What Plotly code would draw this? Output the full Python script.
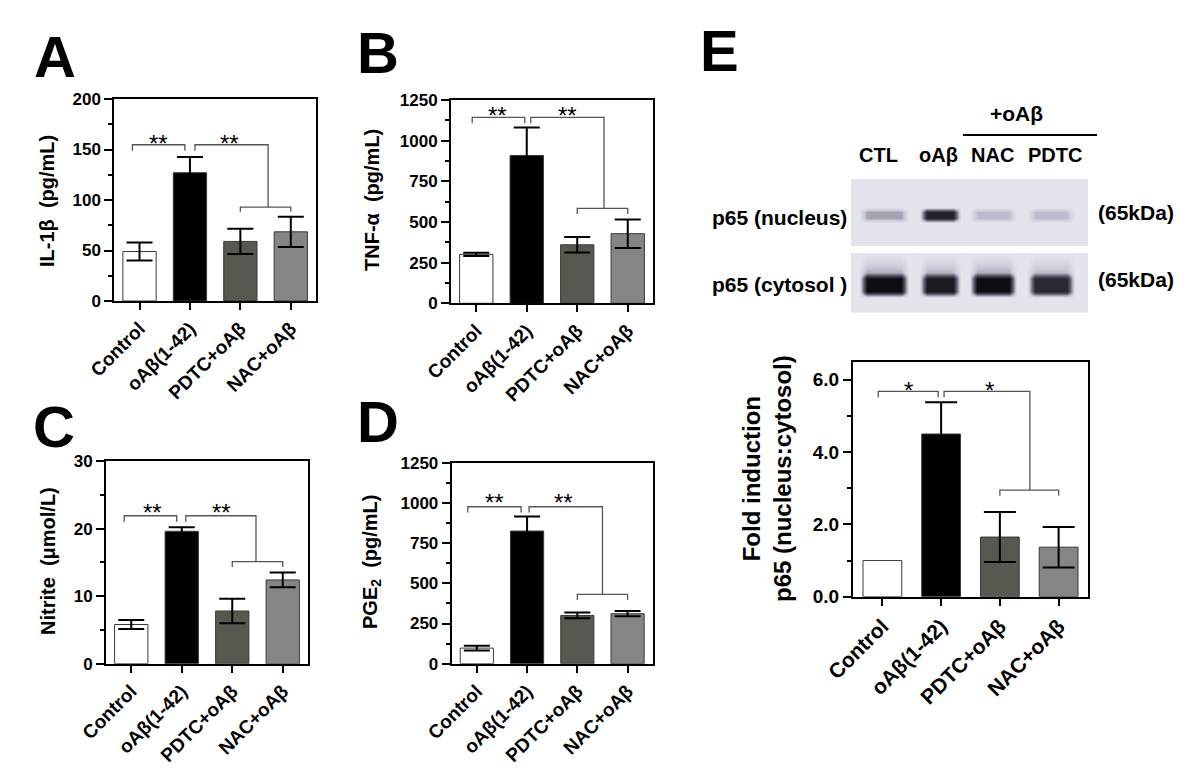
import plotly.graph_objects as go

FONT = "Liberation Sans, Arial, sans-serif"
W, H = 1200, 782

# ---- data ----
categories = ["Control", "oAβ(1-42)", "PDTC+oAβ", "NAC+oAβ"]
bar_colors = ["#ffffff", "#000000", "#57584f", "#858585"]

il1b_mean = [49, 127, 59, 68.5]
il1b_err = [9, 15.5, 12.5, 15]

tnfa_mean = [301, 909, 360, 428]
tnfa_err = [10, 172, 48, 88]

nitrite_mean = [5.8, 19.6, 7.8, 12.4]
nitrite_err = [0.65, 0.6, 1.8, 1.1]

pge2_mean = [97, 825, 300, 311]
pge2_err = [15, 91, 18, 16]

p65_mean = [1.0, 4.5, 1.65, 1.37]
p65_err = [None, 0.88, 0.69, 0.56]

# western blot: relative band darkness per lane (0 = background, 1 = black)
blot_lanes = ["CTL", "oAβ", "NAC", "PDTC"]
nucleus_signal = [0.32, 0.85, 0.24, 0.24]
cytosol_signal = [0.97, 0.9, 0.97, 0.82]


def px(x):
    return x / W


def py(y):
    return 1 - y / H


def label(x, y, text, size, xanchor="center", **kw):
    # paper-positioned text, given in picture pixels
    return dict(x=px(x), y=py(y), xref="paper", yref="paper", text=text,
                xanchor=xanchor, yanchor="middle", showarrow=False,
                font=dict(family=FONT, size=size, color="black", weight="bold"), **kw)


fig = go.Figure()
layout = dict(
    width=W, height=H, margin=dict(l=0, r=0, t=0, b=0),
    paper_bgcolor="white", plot_bgcolor="white", showlegend=False,
    font=dict(family=FONT, color="black"),
)
shapes, annotations = [], []

panels = [
    dict(mean=il1b_mean, err=il1b_err, box=(114.3, 99, 316, 301), yrange=[0, 200],
         dtick=50, title="IL-1β\u00a0 (pg/mL)", title_xy=(47, 201), letter="A",
         letter_xy=(55, 57), top=154.7, tip=148.8, low=92.9, low_tip=88.3, star=162,
         left=(-0.14, 0.9), right0=1.1, mid=2.55, stars_x=(0.38, 1.78), stars="**"),
    dict(mean=tnfa_mean, err=tnfa_err, box=(451, 100, 653, 303.3), yrange=[0, 1250],
         dtick=250, title="TNF-α\u00a0 (pg/mL)", title_xy=(372, 200), letter="B",
         letter_xy=(378, 52), top=1143, tip=1107, low=584, low_tip=549, star=1189,
         left=(-0.08, 0.96), right0=1.08, mid=2.53, stars_x=(0.43, 1.8), stars="**"),
    dict(mean=nitrite_mean, err=nitrite_err, box=(106, 461, 308, 663.7), yrange=[0, 30],
         dtick=10, title="Nitrite\u00a0 (μmol/L)", title_xy=(48, 561), letter="C",
         letter_xy=(54, 426), top=21.9, tip=21.0, low=15.1, low_tip=14.3, star=23.3,
         left=(-0.14, 0.9), right0=1.08, mid=2.47, stars_x=(0.43, 1.79), stars="**"),
    dict(mean=pge2_mean, err=pge2_err, box=(451.7, 462.7, 652.7, 663.7), yrange=[0, 1250],
         dtick=250, title="PGE<sub>2</sub>\u00a0 (pg/mL)", title_xy=(371, 562), letter="D",
         letter_xy=(378, 422), top=976, tip=941, low=431, low_tip=396, star=1038,
         left=(-0.18, 0.88), right0=1.04, mid=2.5, stars_x=(0.36, 1.73), stars="**"),
    dict(mean=p65_mean, err=p65_err, box=(853, 361.7, 1088, 596.7), yrange=[0, 6.5],
         dtick=2, title="Fold induction<br>p65 (nucleus:cytosol)", title_xy=(767, 479),
         letter="E", letter_xy=(719, 51), top=5.68, tip=5.52, low=2.95, low_tip=2.79,
         star=5.88, left=(-0.07, 0.95), right0=1.05, mid=2.51, stars_x=(0.44, 1.83),
         stars="*"),
]

for i, p in enumerate(panels, start=1):
    sfx = "" if i == 1 else str(i)
    xa, ya = "x" + sfx, "y" + sfx
    big = i == 5
    x0, y0, x1, y1 = p["box"]
    xs = list(range(len(categories)))
    fig.add_trace(go.Bar(
        x=xs, y=p["mean"], width=0.66,
        marker=dict(color=bar_colors, line=dict(color="#3a3a3a", width=1)),
        xaxis=xa, yaxis=ya, hoverinfo="skip",
    ))
    # error bars only where an SEM was shown
    keep = [k for k, e in enumerate(p["err"]) if e is not None]
    fig.add_trace(go.Scatter(
        x=[xs[k] for k in keep], y=[p["mean"][k] for k in keep], mode="markers",
        marker=dict(opacity=0, size=1),
        error_y=dict(type="data", array=[p["err"][k] for k in keep], visible=True,
                     color="black", thickness=2, width=16 if big else 13),
        xaxis=xa, yaxis=ya, hoverinfo="skip",
    ))
    layout["xaxis" + sfx] = dict(
        domain=[px(x0), px(x1)], anchor=ya, range=[-0.5, 3.5],
        tickvals=xs, ticktext=categories, tickangle=-45,
        showline=True, mirror=True, linecolor="black", linewidth=2,
        ticks="outside", ticklen=7, tickwidth=2, tickcolor="black",
        showgrid=False, zeroline=False, automargin=False,
        tickfont=dict(family=FONT, size=21 if big else 19, weight="bold"),
    )
    layout["yaxis" + sfx] = dict(
        domain=[py(y1), py(y0)], anchor=xa, range=p["yrange"], dtick=p["dtick"],
        tickformat=".1f" if big else None,
        showline=True, mirror=True, linecolor="black", linewidth=2,
        ticks="outside", ticklen=8, tickwidth=2, tickcolor="black",
        minor=dict(ticks="outside", ticklen=4, tickwidth=2, tickcolor="black",
                   dtick=p["dtick"] / 2),
        showgrid=False, zeroline=False, automargin=False,
        tickfont=dict(family=FONT, size=19 if big else 17, weight="bold"),
    )

    # significance brackets
    line = dict(color="#555555", width=1.3)
    a, b = p["left"]
    shapes.append(dict(type="path", xref=xa, yref=ya, line=line,
                       path=f"M {a},{p['tip']} L {a},{p['top']} L {b},{p['top']} L {b},{p['tip']}"))
    shapes.append(dict(type="path", xref=xa, yref=ya, line=line,
                       path=f"M {p['right0']},{p['tip']} L {p['right0']},{p['top']} "
                            f"L {p['mid']},{p['top']} L {p['mid']},{p['low']}"))
    shapes.append(dict(type="path", xref=xa, yref=ya, line=line,
                       path=f"M 2,{p['low_tip']} L 2,{p['low']} L 3,{p['low']} L 3,{p['low_tip']}"))
    for sx in p["stars_x"]:
        annotations.append(dict(x=sx, y=p["star"], xref=xa, yref=ya, text=p["stars"],
                                xanchor="center", yanchor="middle", showarrow=False,
                                yshift=-6, font=dict(family=FONT, size=24, color="black")))

    tx, ty = p["title_xy"]
    annotations.append(label(tx, ty, p["title"], 24 if big else 20, textangle=-90))
    lx, ly = p["letter_xy"]
    annotations.append(label(lx, ly, p["letter"], 58))

# ---- western blot (panel E, top) ----
lane_centers = [884, 940, 993, 1051]
lane_half = [22, 18, 21, 21]


def lane_profile(signal):
    xs, zs = [851], [0]
    for c, hw, v in zip(lane_centers, lane_half, signal):
        xs += [c - hw - 3, c - hw + 5, c + hw - 5, c + hw + 3]
        zs += [0, v, v, 0]
    xs.append(1088)
    zs.append(0)
    return xs, zs


blot_scale = [[0, "#e4e5ec"], [0.2, "#c9cad6"], [0.55, "#5a5b6c"], [1, "#08080c"]]
for signal, rows, weights in [
    (nucleus_signal, [179, 207, 212, 218, 223, 246], [0, 0, 1, 1, 0, 0]),
    (cytosol_signal, [253, 262, 272, 278, 291, 297, 313], [0, 0.12, 0.3, 1, 1, 0, 0]),
]:
    xs, zs = lane_profile(signal)
    z = [[wt * v for v in zs] for wt in weights]
    fig.add_trace(go.Heatmap(x=xs, y=rows, z=z, zmin=0, zmax=1, zsmooth="best",
                             colorscale=blot_scale, showscale=False, hoverinfo="skip",
                             xaxis="x6", yaxis="y6"))
layout["xaxis6"] = dict(domain=[px(851), px(1088)], anchor="y6", range=[851, 1088],
                        visible=False)
layout["yaxis6"] = dict(domain=[py(313), py(179)], anchor="x6", range=[313, 179],
                        visible=False)
shapes.append(dict(type="rect", xref="x6", yref="y6", x0=851, x1=1088, y0=246, y1=253,
                   fillcolor="white", line=dict(width=0), layer="above"))

blot_label_x = [878, 938, 992, 1055]
for name, x in zip(blot_lanes, blot_label_x):
    annotations.append(label(x, 155, name, 20))
annotations.append(label(1016, 114, "+oAβ", 21))
shapes.append(dict(type="line", xref="paper", yref="paper", x0=px(963), x1=px(1097),
                   y0=py(135), y1=py(135), line=dict(color="black", width=2)))
for text, y in [("p65 (nucleus)", 217), ("p65 (cytosol )", 284)]:
    annotations.append(label(849, y, text, 21, xanchor="right"))
for y in [212, 280]:
    annotations.append(label(1096, y, "(65kDa)", 21, xanchor="left"))

layout["shapes"] = shapes
layout["annotations"] = annotations
fig.update_layout(**layout)
# the page's default body margin would push the 1200x782 figure off by 8px
fig.write_html("out.html", config={"displayModeBar": False},
               post_script="document.body.style.margin = '0';")
